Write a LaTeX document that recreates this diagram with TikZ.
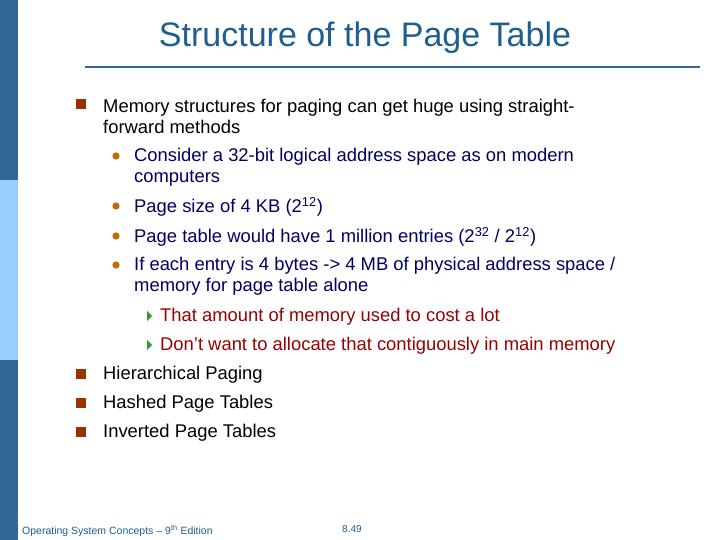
\documentclass[tikz,border=0pt]{standalone}
\usepackage{fontspec}
\setmainfont{Liberation Sans}
\definecolor{barD}{HTML}{336699}
\definecolor{barL}{HTML}{99CCFF}
\definecolor{ttl}{HTML}{1F5F8F}
\definecolor{navy}{HTML}{000066}
\definecolor{dred}{HTML}{990000}
\definecolor{sq}{HTML}{993300}
\definecolor{dot}{HTML}{CC6600}
\definecolor{grn}{HTML}{339933}
\begin{document}
\begin{tikzpicture}[x=1pt,y=-1pt,
  lone/.style={anchor=west,inner sep=0,font=\fontsize{18.4}{21}\selectfont,align=left},
  ltwo/.style={lone,text=navy},
  lthree/.style={lone,text=dred},
  sqb/.style={fill=sq},
  dotb/.style={fill=dot},
  tri/.style={fill=grn}]
\fill[white] (0,0) rectangle (720,540);
\useasboundingbox (0,0) rectangle (720,540);
\fill[barD] (0,0) rectangle (18,180);
\fill[barL] (0,180) rectangle (18,360);
\fill[barD] (0,360) rectangle (18,540);
\node[font=\fontsize{34}{36}\selectfont,text=ttl,inner sep=0] (title) at (365,38) {Structure of the Page Table};
\draw[barD,line width=2] (85,67) -- (700,67);
% level 1
\fill[sqb] (76,99) rectangle (86,109);
\node[lone] (a) at (103,116) {Memory structures for paging can get huge using straight-\\forward methods};
\fill[dotb] (116,156) circle (3.6);
\node[ltwo] (b) at (134,167) {Consider a 32-bit logical address space as on modern\\computers};
\fill[dotb] (116,206) circle (3.6);
\node[ltwo] (c) at (134,207) {Page size of 4 KB (2\textsuperscript{12})};
\fill[dotb] (116,236) circle (3.6);
\node[ltwo] (d) at (134,237) {Page table would have 1 million entries (2\textsuperscript{32} / 2\textsuperscript{12})};
\fill[dotb] (116,265) circle (3.6);
\node[ltwo] (e) at (134,276) {If each entry is 4 bytes -> 4 MB of physical address space /\\memory for page table alone};
\fill[tri] (147,311) -- (152,316) -- (147,321) -- cycle;
\node[lthree] (f) at (160,317) {That amount of memory used to cost a lot};
\fill[tri] (147,340) -- (152,345) -- (147,350) -- cycle;
\node[lthree] (g) at (160,346) {Don’t want to allocate that contiguously in main memory};
\fill[sqb] (76,369) rectangle (86,379);
\node[lone] (h) at (103,375) {Hierarchical Paging};
\fill[sqb] (76,398) rectangle (86,408);
\node[lone] (i) at (103,404) {Hashed Page Tables};
\fill[sqb] (76,427) rectangle (86,437);
\node[lone] (j) at (103,433) {Inverted Page Tables};
\node[anchor=west,inner sep=0,font=\fontsize{10.5}{11}\selectfont,text=ttl] (foot) at (22,531) {Operating System Concepts – 9\textsuperscript{th} Edition};
\node[anchor=west,inner sep=0,font=\fontsize{10}{11}\selectfont,text=ttl] (pg) at (342,529) {8.49};
\end{tikzpicture}
\end{document}
